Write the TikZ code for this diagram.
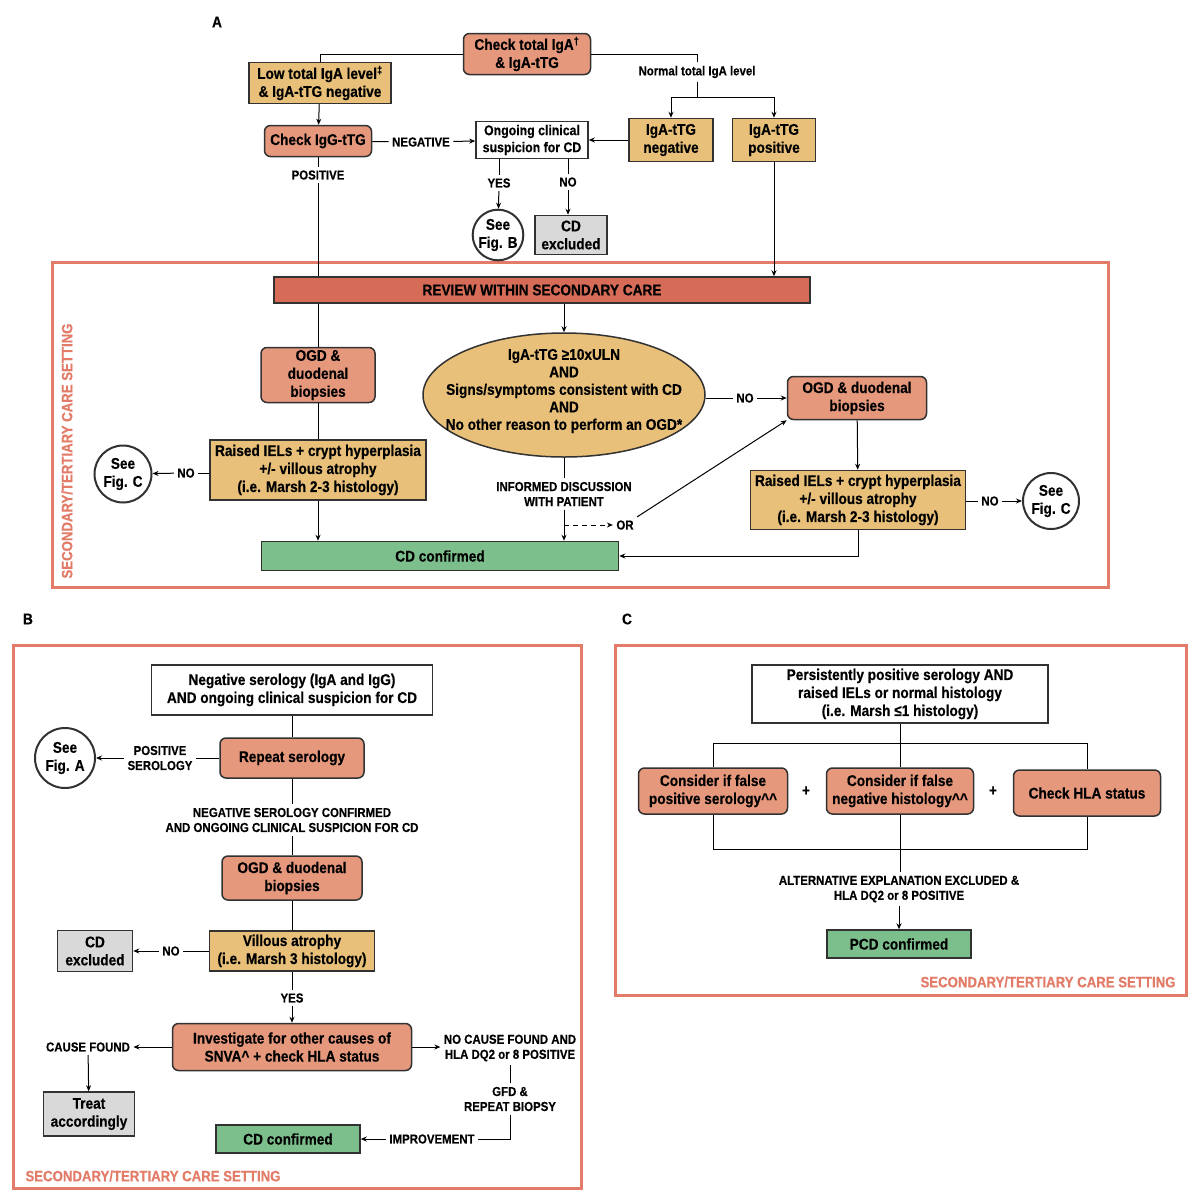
\documentclass[tikz,border=0pt]{standalone}
\usepackage{fontspec}
\setmainfont{Liberation Sans}[FakeStretch=0.88, BoldFeatures={FakeBold=0.4}]
\usetikzlibrary{shapes.geometric,arrows.meta}
\definecolor{salm}{RGB}{230,152,125}
\definecolor{tan}{RGB}{232,192,122}
\definecolor{grn}{RGB}{124,190,140}
\definecolor{gry}{RGB}{217,217,217}
\definecolor{rev}{RGB}{214,108,88}
\definecolor{frm}{RGB}{226,124,104}
\definecolor{bd}{RGB}{50,50,50}
\begin{document}
\begin{tikzpicture}[x=1pt,y=-1pt,
  line width=1pt,
  arr/.style={-{Stealth[length=6pt,width=5pt]}},
  bx/.style={draw=bd, line width=1.5pt, align=center, inner sep=1pt,
     font=\bfseries\fontsize{15.5}{18}\selectfont},
  sbox/.style={bx, fill=salm, rounded corners=6pt},
  ybox/.style={bx, fill=tan},
  wbox/.style={bx, fill=white},
  gbox/.style={bx, fill=gry},
  cbox/.style={bx, fill=grn},
  circ/.style={bx, circle, fill=white, line width=2pt, inner sep=0pt},
  lbl/.style={align=center, inner sep=3pt, font=\bfseries\fontsize{13}{15}\selectfont},
  frame/.style={draw=frm, line width=3pt},
  frlbl/.style={text=frm, inner sep=0pt, font=\bfseries\fontsize{15}{17}\selectfont},
  panel/.style={font=\bfseries\fontsize{15.5}{17}\selectfont}
]
\useasboundingbox[fill=white] (0,0) rectangle (1195,1200);

% ================= Panel A =================
\node[panel] (pA) at (217,22) {A};
\draw[frame] (52,262) rectangle (1108,587);
\node[frlbl, rotate=90] (frA) at (67,451) {SECONDARY/TERTIARY CARE SETTING};

\node[sbox, minimum width=127pt, minimum height=41pt] (top) at (527,54) {Check total IgA\textsuperscript{†}\\\& IgA-tTG};
\node[ybox, minimum width=142pt, minimum height=41pt] (low) at (320,83) {Low total IgA level\textsuperscript{‡}\\\& IgA-tTG negative};
\node[sbox, minimum width=107pt, minimum height=31pt] (chk) at (318,141) {Check IgG-tTG};
\node[wbox, minimum width=112pt, minimum height=37pt, font=\bfseries\fontsize{14}{17}\selectfont] (ong) at (532,140) {Ongoing clinical\\suspicion for CD};
\node[ybox, minimum width=84pt, minimum height=43pt] (neg) at (671,140) {IgA-tTG\\negative};
\node[ybox, minimum width=83pt, minimum height=43pt] (pos) at (774,140) {IgA-tTG\\positive};
\node[lbl] (nlbl) at (697,72) {Normal total IgA level};
\coordinate (split) at (697,97);
\node[lbl] (neglbl) at (421,142) {NEGATIVE};
\node[lbl] (yeslbl) at (499,183) {YES};
\node[lbl] (nolbl) at (568,182) {NO};
\node[circ, minimum size=50pt] (figB) at (498,235) {See\\Fig. B};
\node[gbox, minimum width=72pt, minimum height=39pt] (cdx1) at (571,235) {CD\\excluded};
\node[lbl] (poslbl) at (318,175) {POSITIVE};

\node[bx, fill=rev, minimum width=536pt, minimum height=26pt] (rv) at (542,290) {REVIEW WITHIN SECONDARY CARE};
\node[draw=bd, line width=1.5pt, fill=tan, ellipse, minimum width=282pt, minimum height=124pt, inner sep=0pt] (ell) at (564,395) {};
\node[align=center, font=\bfseries\fontsize{15.5}{17.5}\selectfont] (elltxt) at (564,391) {IgA-tTG ≥10xULN\\AND\\Signs/symptoms consistent with CD\\AND\\No other reason to perform an OGD*};
\node[sbox, minimum width=114pt, minimum height=55pt] (ogd1) at (318,375) {OGD \&\\duodenal\\biopsies};
\node[ybox, minimum width=216pt, minimum height=60pt] (rsd1) at (318,470) {Raised IELs + crypt hyperplasia\\+/- villous atrophy\\(i.e. Marsh 2-3 histology)};
\node[lbl] (nol1) at (186,473) {NO};
\node[circ, minimum size=57pt] (figC1) at (123,474) {See\\Fig. C};
\node[cbox, minimum width=357pt, minimum height=29pt] (cdc1) at (440,556) {CD confirmed};
\node[lbl] (nol2) at (745,398) {NO};
\node[sbox, minimum width=139pt, minimum height=43pt] (ogd2) at (857,398) {OGD \& duodenal\\biopsies};
\node[ybox, minimum width=215pt, minimum height=59pt] (rsd2) at (858,500) {Raised IELs + crypt hyperplasia\\+/- villous atrophy\\(i.e. Marsh 2-3 histology)};
\node[lbl] (nol3) at (990,501) {NO};
\node[circ, minimum size=56pt] (figC2) at (1051,501) {See\\Fig. C};
\node[lbl] (infl) at (564,494) {INFORMED DISCUSSION\\WITH PATIENT};
\node[lbl] (orl) at (625,525) {OR};
\coordinate (dsh) at (564,525);

\draw (top.west) -| (low.north);
\draw (top.east) -| (nlbl.north);
\draw (nlbl.south) -- (split);
\draw[arr] (split) -| (neg.north);
\draw[arr] (split) -| (pos.north);
\draw[arr] (low) -- (chk);
\draw (chk) -- (neglbl);
\draw[arr] (neglbl) -- (ong);
\draw[arr] (neg) -- (ong);
\draw (ong.south -| yeslbl) -- (yeslbl);
\draw[arr] (yeslbl) -- (figB);
\draw (ong.south -| nolbl) -- (nolbl);
\draw[arr] (nolbl) -- (nolbl |- cdx1.north);
\draw (chk) -- (poslbl);
\draw (poslbl) -- (poslbl |- rv.north);
\draw[arr] (pos) -- (pos |- rv.north);
\draw (ogd1.north |- rv.south) -- (ogd1);
\draw[arr] (ell.north |- rv.south) -- (ell.north);
\draw (ogd1) -- (rsd1);
\draw (rsd1.west |- nol1) -- (nol1);
\draw[arr] (nol1) -- (figC1);
\draw[arr] (rsd1.south) -- (rsd1.south |- cdc1.north);
\draw (ell.east |- nol2) -- (nol2);
\draw[arr] (nol2) -- (ogd2.west |- nol2);
\draw[arr] (ogd2) -- (rsd2);
\draw (rsd2.east |- nol3) -- (nol3);
\draw[arr] (nol3) -- (figC2);
\draw[arr] (rsd2.south) |- (cdc1.east);
\draw (ell.south) -- (infl.north);
\draw[arr] (infl.south) -- (infl.south |- cdc1.north);
\draw[arr, dash pattern=on 5pt off 4pt] (dsh) -- (orl.west);
\draw[arr] (orl.north east) -- (ogd2.south west);

% ================= Panel B =================
\node[panel] (pB) at (28,619) {B};
\draw[frame] (13,645) rectangle (581,1188);
\node[frlbl, anchor=west] (frB) at (25,1176) {SECONDARY/TERTIARY CARE SETTING};

\node[wbox, minimum width=281pt, minimum height=50pt] (nsb) at (292,690) {Negative serology (IgA and IgG)\\AND ongoing clinical suspicion for CD};
\node[sbox, minimum width=144pt, minimum height=40pt] (rep) at (292,758) {Repeat serology};
\node[lbl] (possero) at (160,758) {POSITIVE\\SEROLOGY};
\node[circ, minimum size=60pt] (figA) at (65,758) {See\\Fig. A};
\node[lbl] (negconf) at (292,820) {NEGATIVE SEROLOGY CONFIRMED\\AND ONGOING CLINICAL SUSPICION FOR CD};
\node[sbox, minimum width=140pt, minimum height=44pt] (ogdB) at (292,878) {OGD \& duodenal\\biopsies};
\node[ybox, minimum width=165pt, minimum height=40pt] (vil) at (292,951) {Villous atrophy\\(i.e. Marsh 3 histology)};
\node[lbl] (noB) at (171,951) {NO};
\node[gbox, minimum width=75pt, minimum height=41pt] (cdxB) at (95,951) {CD\\excluded};
\node[lbl] (yesB) at (292,998) {YES};
\node[sbox, minimum width=239pt, minimum height=47pt] (inv) at (292,1047) {Investigate for other causes of\\SNVA\textasciicircum\ + check HLA status};
\node[lbl] (cause) at (88,1047) {CAUSE FOUND};
\node[gbox, minimum width=91pt, minimum height=44pt] (treat) at (89,1114) {Treat\\accordingly};
\node[lbl] (nocause) at (510,1048) {NO CAUSE FOUND AND\\HLA DQ2 or 8 POSITIVE};
\node[lbl] (gfd) at (510,1099) {GFD \&\\REPEAT BIOPSY};
\node[lbl] (impr) at (432,1139) {IMPROVEMENT};
\node[cbox, minimum width=144pt, minimum height=28pt] (cdcB) at (288,1139) {CD confirmed};

\draw (nsb) -- (rep);
\draw (rep.west) -- (rep.west -| possero.east);
\draw[arr] (possero.west) -- (figA.east);
\draw (rep) -- (negconf);
\draw (negconf) -- (ogdB);
\draw (ogdB) -- (vil);
\draw (vil.west) -- (noB);
\draw[arr] (noB) -- (cdxB);
\draw (vil) -- (yesB);
\draw[arr] (yesB) -- (inv);
\draw[arr] (inv.west) -- (inv.west -| cause.east);
\draw[arr] (cause) -- (treat);
\draw[arr] (inv.east) -- (inv.east -| nocause.west);
\draw (nocause) -- (gfd);
\draw (gfd.south) |- (impr.east);
\draw[arr] (impr) -- (cdcB);

% ================= Panel C =================
\node[panel] (pC) at (627,619) {C};
\draw[frame] (615,645) rectangle (1186,995);
\node[frlbl, anchor=east] (frC) at (1176,982) {SECONDARY/TERTIARY CARE SETTING};

\node[wbox, minimum width=296pt, minimum height=58pt] (ctop) at (900,694) {Persistently positive serology AND\\raised IELs or normal histology\\(i.e. Marsh ≤1 histology)};
\node[sbox, minimum width=149pt, minimum height=46pt] (c1) at (713,791) {Consider if false\\positive serology\textasciicircum\textasciicircum};
\node[sbox, minimum width=147pt, minimum height=46pt] (c2) at (900,791) {Consider if false\\negative histology\textasciicircum\textasciicircum};
\node[sbox, minimum width=147pt, minimum height=46pt] (c3) at (1087,793) {Check HLA status};
\node[bx, draw=none, inner sep=0pt] (p1) at (806,791) {+};
\node[bx, draw=none, inner sep=0pt] (p2) at (993,791) {+};
\coordinate (hl) at (900,743);
\coordinate (bl) at (900,849);
\node[lbl] (alt) at (899,889) {ALTERNATIVE EXPLANATION EXCLUDED \&\\HLA DQ2 or 8 POSITIVE};
\node[cbox, minimum width=144pt, minimum height=28pt] (pcd) at (899,944) {PCD confirmed};

\draw (ctop) -- (c2);
\draw (c1.north) |- (c3.north |- hl) -- (c3.north);
\draw (c1.south) |- (c3.south |- bl) -- (c3.south);
\draw (c2.south) -- (alt.north -| c2.south);
\draw[arr] (alt.south -| pcd.north) -- (pcd.north);
\end{tikzpicture}
\end{document}
